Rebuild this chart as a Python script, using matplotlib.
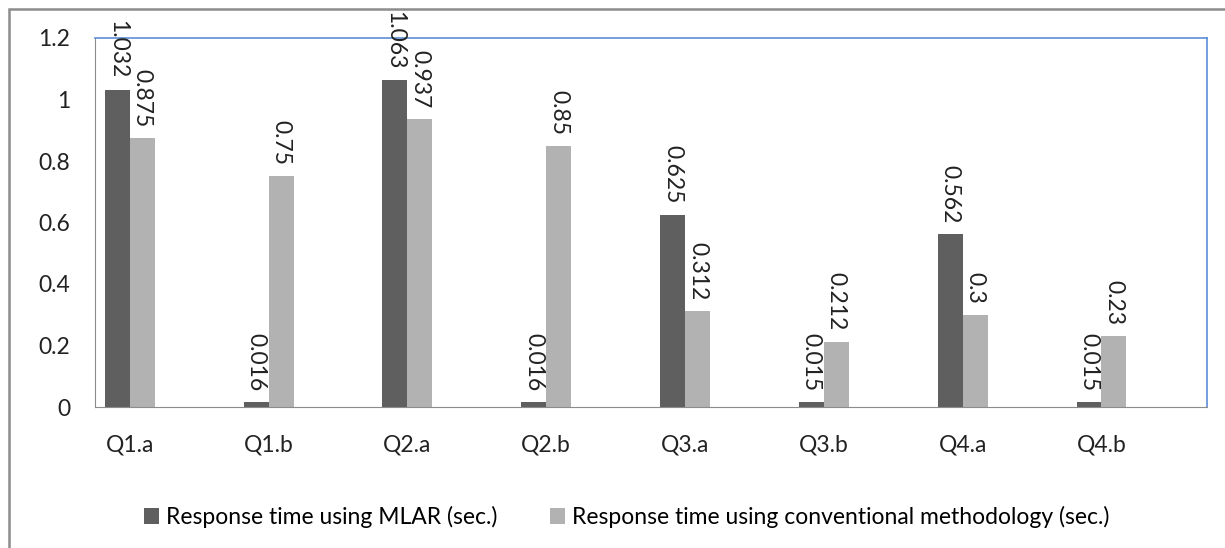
import numpy as np
import matplotlib.pyplot as plt
from matplotlib.patches import Rectangle

labels = ['Q1.a', 'Q1.b', 'Q2.a', 'Q2.b', 'Q3.a', 'Q3.b', 'Q4.a', 'Q4.b']
mlar = [1.032, 0.016, 1.063, 0.016, 0.625, 0.015, 0.562, 0.015]
conv = [0.875, 0.75, 0.937, 0.85, 0.312, 0.212, 0.3, 0.23]
mlar_txt = ['1.032', '0.016', '1.063', '0.016', '0.625', '0.015', '0.562', '0.015']
conv_txt = ['0.875', '0.75', '0.937', '0.85', '0.312', '0.212', '0.3', '0.23']

plt.rcParams['font.family'] = ['Lato', 'DejaVu Sans']
fs = 16.5

fig = plt.figure(figsize=(12.25, 5.48), dpi=100)
# outer chart frame (only top and left edges fall inside the image)
fig.patches.append(Rectangle((8.5/1225, -0.05), 1.2, 1 - 9/548 + 0.05,
                             transform=fig.transFigure, fill=False,
                             edgecolor='#8c8c8c', linewidth=1.8))
ax = fig.add_axes([95/1225, 1 - 407/548, (1207-95)/1225, (407-38)/548])

x = np.arange(len(labels))
w = 0.18
ax.bar(x - w/2, mlar, w, color='#5f5f5f', label='Response time using MLAR (sec.)')
ax.bar(x + w/2, conv, w, color='#b2b2b2', label='Response time using conventional methodology (sec.)')

for i in range(len(labels)):
    ax.annotate(mlar_txt[i], (x[i] - w/2, mlar[i]), xytext=(0, 8), textcoords='offset points',
                rotation=270, ha='center', va='bottom', fontsize=fs, color='#222222')
    ax.annotate(conv_txt[i], (x[i] + w/2, conv[i]), xytext=(0, 8), textcoords='offset points',
                rotation=270, ha='center', va='bottom', fontsize=fs, color='#222222')

ax.set_xlim(-0.25, 7.76)
ax.set_ylim(0, 1.2)
ax.set_yticks([0, 0.2, 0.4, 0.6, 0.8, 1, 1.2])
ax.set_yticklabels(['0', '0.2', '0.4', '0.6', '0.8', '1', '1.2'])
ax.set_xticks(x)
ax.set_xticklabels(labels)
ax.tick_params(axis='both', length=0, labelsize=fs, colors='#222222')
ax.tick_params(axis='x', pad=20)
ax.tick_params(axis='y', pad=18)
for s in ['left', 'bottom']:
    ax.spines[s].set_color('#8c8c8c')
for s in ['top', 'right']:
    ax.spines[s].set_color('#5b8fd6')
    ax.spines[s].set_linewidth(1.2)

ax.legend(loc='center', bbox_to_anchor=(0.478, -0.298), ncol=2, frameon=False,
          fontsize=fs, handlelength=0.65, handleheight=0.65, columnspacing=2.3,
          handletextpad=0.3)

plt.savefig('out.png', dpi=100)
